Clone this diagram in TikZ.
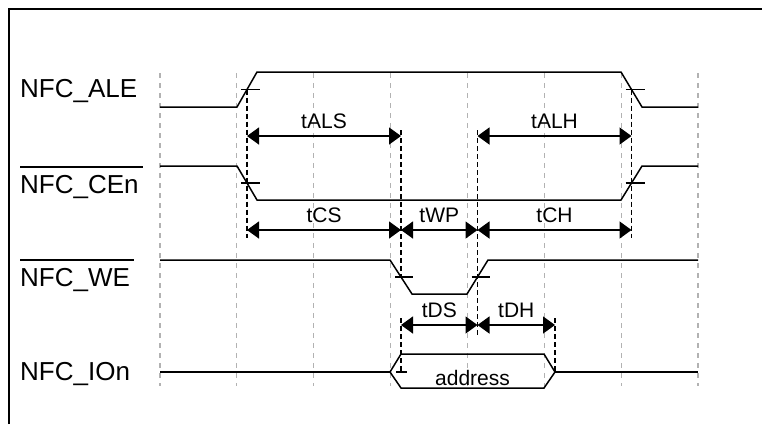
\documentclass[tikz,border=0pt]{standalone}
\usepackage{fontspec}
\setmainfont{Liberation Sans}
\usetikzlibrary{arrows.meta}
\newcommand{\barsig}[1]{\vbox{\hrule height 1.5pt\kern 7pt\hbox{#1\kern 4pt}}}
\tikzset{
    sig/.style={line width=1.5pt, line join=miter},
    gridline/.style={gray!60, line width=1.2pt, dash pattern=on 5pt off 5pt},
    markline/.style={black, line width=1.3pt, dash pattern=on 5pt off 3pt},
    tick/.style={line width=1.5pt},
    dim/.style={<->, line width=1.5pt},
    siglbl/.style={anchor=base west, inner sep=0pt, font=\fontsize{26}{30}\selectfont},
    tlbl/.style={anchor=base, inner sep=0pt, yshift=8pt, font=\fontsize{21}{25}\selectfont}
}
\begin{document}
\begin{tikzpicture}[x=1pt, y=-1pt, >={Triangle[length=12pt,width=17pt]}]
    \useasboundingbox[fill=white] (0,0) rectangle (762,424);
    % Frame
    \draw[line width=2pt] (8.5,424) -- (8.5,8.5) -- (762,8.5);

    % Grid
    \foreach \i in {0,...,7}
        \draw[gridline] ({160+76.85*\i},73) -- ({160+76.85*\i},386);

    % Signal names
    \node[siglbl] (lALE) at (20,97.5) {NFC\_ALE};
    \node[siglbl] (lCE) at (20,193) {\barsig{NFC\_CEn}};
    \node[siglbl] (lWE) at (20,286) {\barsig{NFC\_WE}};
    \node[siglbl] (lIO) at (20,380) {NFC\_IOn};

    % Waveforms
    \draw[sig] (160,107) -- (237,107) -- (257,72) -- (621,72) -- (642,107) -- (698,107);
    \draw[sig] (160,166) -- (237,166) -- (257,200) -- (621,200) -- (642,166) -- (698,166);
    \draw[sig] (160,260) -- (390,260) -- (412,294) -- (467,294) -- (488,260) -- (698,260);
    \draw[sig] (160,372) -- (390,372);
    \draw[sig] (390,372) -- (401,354) -- (544,354) -- (555,372) -- (544,388) -- (401,388) -- cycle;
    \draw[sig] (555,372) -- (698,372);
    \node[inner sep=0pt, anchor=base, font=\fontsize{21}{25}\selectfont] (data) at (472.5,385) {address};

    % Timing marks
    \coordinate (mA) at (247,0);
    \coordinate (mB) at (401,0);
    \coordinate (mC) at (477.5,0);
    \coordinate (mD) at (631.5,0);
    \coordinate (mE) at (555,0);
    \coordinate (rALE) at (0,89.5);
    \coordinate (rCE) at (0,183);
    \coordinate (rWE) at (0,277);
    \coordinate (rIO) at (0,372);
    \coordinate (rA) at (0,136);
    \coordinate (rB) at (0,230);
    \coordinate (rC) at (0,325);

    % Crossing ticks
    \draw[tick] ([xshift=-6pt]mA |- rALE) -- ([xshift=13pt]mA |- rALE);
    \draw[tick] ([xshift=-6pt]mD |- rALE) -- ([xshift=13pt]mD |- rALE);
    \draw[tick] ([xshift=-6pt]mA |- rCE) -- ([xshift=13pt]mA |- rCE);
    \draw[tick] ([xshift=-6pt]mD |- rCE) -- ([xshift=13pt]mD |- rCE);
    \draw[tick] ([xshift=-6pt]mB |- rWE) -- ([xshift=12pt]mB |- rWE);
    \draw[tick] ([xshift=-6pt]mC |- rWE) -- ([xshift=12pt]mC |- rWE);
    \draw[tick] ([xshift=-5pt]mB |- rIO) -- ([xshift=6pt]mB |- rIO);
    \draw[tick] (mE |- rIO) -- ([xshift=12pt]mE |- rIO);

    % Reference lines
    \draw[markline] (mA |- rALE) -- ([yshift=-8pt]mA |- rB);
    \draw[markline] ([yshift=6pt]mB |- rA) -- (mB |- rWE);
    \draw[markline] ([yshift=6pt]mC |- rA) -- ([yshift=-10pt]mC |- rC);
    \draw[markline] (mD |- rALE) -- ([yshift=-8pt]mD |- rB);
    \draw[markline] ([yshift=7pt]mB |- rC) -- (mB |- rIO);
    \draw[markline] ([yshift=7pt]mE |- rC) -- (mE |- rIO);

    % Intervals
    \draw[dim] (mA |- rA) -- node[tlbl] (tALS) {tALS} (mB |- rA);
    \draw[dim] (mC |- rA) -- node[tlbl] (tALH) {tALH} (mD |- rA);
    \draw[dim] (mA |- rB) -- node[tlbl] (tCS) {tCS} (mB |- rB);
    \draw[dim] (mB |- rB) -- node[tlbl] (tWP) {tWP} (mC |- rB);
    \draw[dim] (mC |- rB) -- node[tlbl] (tCH) {tCH} (mD |- rB);
    \draw[dim] (mB |- rC) -- node[tlbl] (tDS) {tDS} (mC |- rC);
    \draw[dim] (mC |- rC) -- node[tlbl] (tDH) {tDH} (mE |- rC);
\end{tikzpicture}
\end{document}
